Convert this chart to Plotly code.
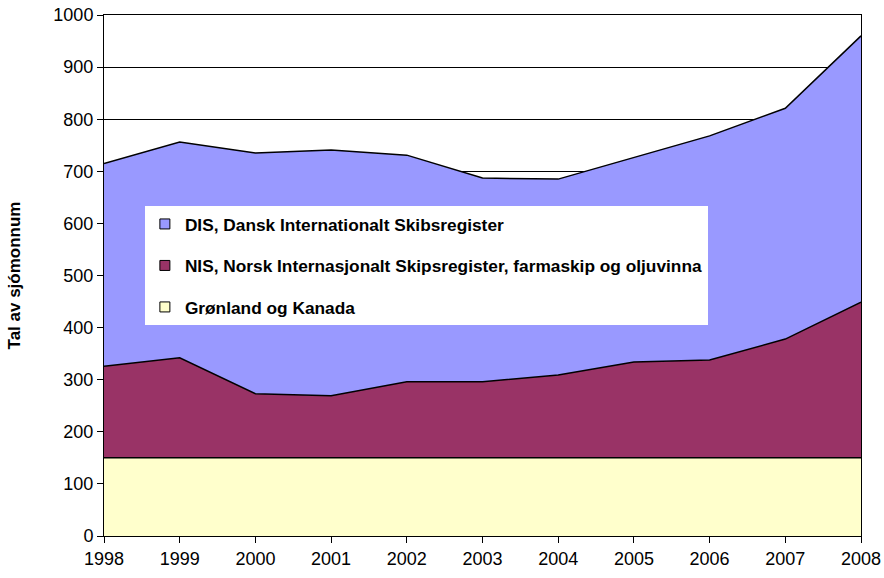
import plotly.graph_objects as go

years = [1998, 1999, 2000, 2001, 2002, 2003, 2004, 2005, 2006, 2007, 2008]
gronland = [150, 150, 150, 150, 150, 150, 150, 150, 150, 150, 150]
nis = [176, 192, 123, 119, 146, 146, 159, 184, 188, 228, 299]
dis = [389, 414, 462, 472, 435, 391, 376, 393, 430, 443, 511]

names = ["Grønland og Kanada",
         "NIS, Norsk Internasjonalt Skipsregister, farmaskip og oljuvinna",
         "DIS, Dansk Internationalt Skibsregister"]
colors = ["#FFFFCC", "#993366", "#9999FF"]
series = [gronland, nis, dis]

fig = go.Figure()
for i, (nm, col, vals) in enumerate(zip(names, colors, series)):
    fig.add_trace(go.Scatter(
        x=years, y=vals, name=nm, mode="lines", stackgroup="one",
        line=dict(color="black", width=1.5), fillcolor=col,
        showlegend=False,
    ))
# legend entries with square swatches
for i, (nm, col) in enumerate(zip(names, colors)):
    fig.add_trace(go.Scatter(
        x=[None], y=[None], name=nm, mode="markers",
        marker=dict(symbol="square", size=10, color=col, line=dict(color="black", width=1)),
        legendgroup=f"g{i}", legendrank=3 - i, showlegend=True,
    ))

font_main = "Liberation Sans, Arial, sans-serif"
fig.update_layout(
    width=884, height=578,
    margin=dict(l=104, r=23, t=15, b=42),
    paper_bgcolor="white", plot_bgcolor="white",
    showlegend=True,
    legend=dict(
        x=0.054, y=0.633, xanchor="left", yanchor="top",
        bgcolor="white", borderwidth=0,
        font=dict(family=font_main, size=17.3, color="black", weight="bold"),
        tracegroupgap=16, traceorder="grouped",
        itemwidth=30,
    ),
    xaxis=dict(
        range=[1998, 2008], tickmode="array", tickvals=years,
        ticktext=[str(y) for y in years],
        ticks="outside", ticklen=6, tickcolor="black",
        showline=True, linecolor="black", linewidth=1, mirror=True,
        showgrid=False, zeroline=False, automargin=False,
        ticklabeloverflow="allow",
        tickfont=dict(family=font_main, size=18, color="black"),
    ),
    yaxis=dict(
        range=[0, 1000], dtick=100, ticks="outside", ticklen=6, tickcolor="black",
        showline=True, linecolor="black", linewidth=1, mirror=True,
        showgrid=True, gridcolor="black", gridwidth=1, zeroline=False,
        automargin=False, ticklabeloverflow="allow",
        tickfont=dict(family=font_main, size=18, color="black"),
        title=dict(text="Tal av sjómonnum", standoff=28,
                   font=dict(family=font_main, size=17, color="black", weight="bold")),
    ),
)

fig.write_html("out.html",
               config={"displayModeBar": False},
               post_script="document.body.style.margin='0';document.body.style.overflow='hidden';")
